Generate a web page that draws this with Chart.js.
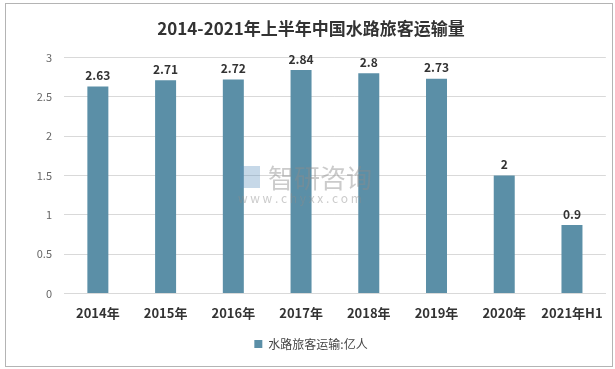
<!DOCTYPE html>
<html>
<head>
<meta charset="utf-8">
<script src="https://cdn.jsdelivr.net/npm/chart.js@4/dist/chart.umd.min.js"></script>
<style>
  body { margin: 0; background: #fff; }
  #wrap { position: relative; width: 615px; height: 369px; }
  #frame { position: absolute; left: 5px; top: 3px; width: 606px; height: 362px; border: 1px solid #b4b4b4; pointer-events: none; }
</style>
</head>
<body>
<div id="wrap">
  <canvas id="myChart" width="615" height="369"></canvas>
  <div id="frame"></div>
</div>
<script>
// 数据
let years = ['2014年', '2015年', '2016年', '2017年', '2018年', '2019年', '2020年', '2021年H1'];
let passengers = [2.63, 2.71, 2.72, 2.84, 2.8, 2.73, 1.5, 0.87];
let barLabels = ['2.63', '2.71', '2.72', '2.84', '2.8', '2.73', '2', '0.9'];
let yTicks = [0, 0.5, 1, 1.5, 2, 2.5, 3];

const fontFam = '"Noto Sans CJK SC", "Liberation Sans", sans-serif';

// 柱顶数值
const valueLabels = {
  id: 'valueLabels',
  afterDatasetsDraw(chart) {
    let ctx = chart.ctx;
    let meta = chart.getDatasetMeta(0);
    ctx.save();
    ctx.font = 'bold 12px ' + fontFam;
    ctx.fillStyle = '#333';
    ctx.textAlign = 'center';
    ctx.textBaseline = 'bottom';
    meta.data.forEach(function(bar, i) {
      ctx.fillText(barLabels[i], bar.x, bar.y - 5);
    });
    ctx.restore();
  }
};

// 水印
const watermark = {
  id: 'watermark',
  afterDatasetsDraw(chart) {
    let ctx = chart.ctx;
    ctx.save();
    ctx.fillStyle = 'rgba(140,140,140,0.45)';
    ctx.font = '26px ' + fontFam;
    ctx.textBaseline = 'middle';
    ctx.fillText('智研咨询', 268, 178);
    ctx.font = '12px ' + fontFam;
    ctx.fillText('w w w . c h y x x . c o m', 238, 198);
    ctx.fillStyle = 'rgba(91,143,190,0.35)';
    ctx.fillRect(240, 166, 20, 22);
    ctx.restore();
  }
};

function createAPlot() {
  let ctx = document.getElementById('myChart').getContext('2d');
  new Chart(ctx, {
    type: 'bar',
    data: {
      labels: years,
      datasets: [{
        label: '水路旅客运输:亿人',
        data: passengers,
        backgroundColor: '#5b8fa7',
        barPercentage: 0.62,
        categoryPercentage: 0.5
      }]
    },
    plugins: [valueLabels, watermark],
    options: {
      responsive: false,
      animation: false,
      layout: { padding: { left: 14, right: 7, top: 4, bottom: 9 } },
      plugins: {
        title: {
          display: true,
          text: '2014-2021年上半年中国水路旅客运输量',
          color: '#333',
          font: { family: fontFam, size: 17, weight: 'bold' },
          padding: { top: 14, bottom: 19 }
        },
        legend: {
          position: 'bottom',
          labels: {
            color: '#444',
            font: { family: fontFam, size: 12 },
            boxWidth: 8,
            boxHeight: 8,
            padding: 5
          }
        },
        tooltip: { enabled: false }
      },
      scales: {
        x: {
          grid: { display: false, drawTicks: false },
          border: { display: true, color: '#d9d9d9' },
          ticks: {
            color: '#333',
            font: { family: fontFam, size: 13, weight: 'bold' },
            padding: 12,
            maxRotation: 0,
            autoSkip: false
          }
        },
        y: {
          min: 0,
          max: 3,
          afterBuildTicks: function(scale) {
            scale.ticks = yTicks.map(function(v) { return { value: v }; });
          },
          afterFit: function(scale) { scale.width = 50; },
          grid: { color: '#d9d9d9', drawTicks: false },
          border: { display: false },
          ticks: {
            color: '#666',
            font: { family: fontFam, size: 11 },
            padding: 12,
            callback: function(v) { return String(v); }
          }
        }
      }
    }
  });
}
createAPlot();
</script>
</body>
</html>
